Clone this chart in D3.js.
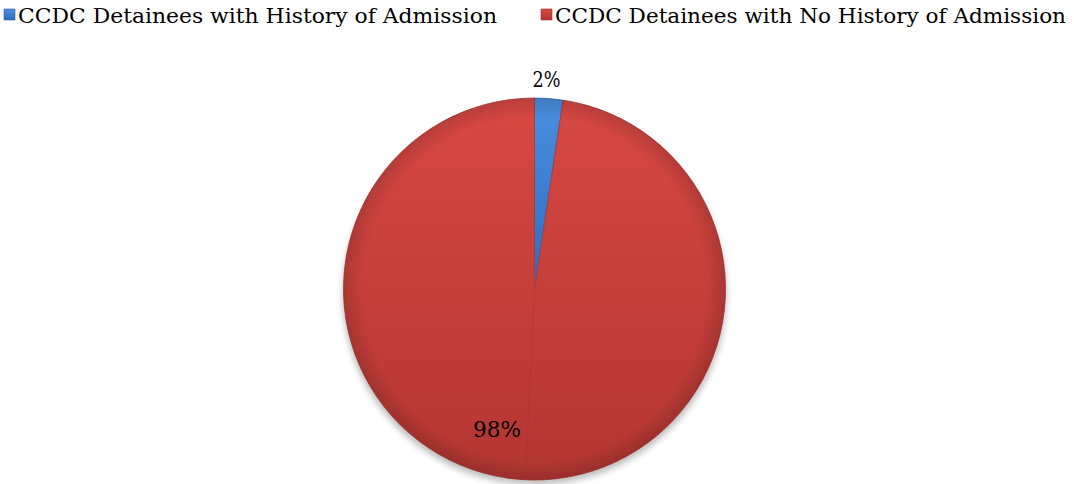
<!DOCTYPE html>
<html><head><meta charset="utf-8">
<script src="https://cdn.jsdelivr.net/npm/d3@7"></script>
<style>html,body{margin:0;padding:0;background:#fff;} svg{display:block;} text{font-family:"DejaVu Serif",serif;}</style>
</head><body>
<svg id="chart" width="1074" height="484"></svg>
<script>
const categories = ["CCDC Detainees with History of Admission", "CCDC Detainees with No History of Admission"];
const values = [2.4, 97.6];
const labels = ["2%", "98%"];
const colors = ["#3a7fd5", "#cf4440"];

const svg = d3.select("#chart");
const cx = 534.5, cy = 289, R = 191;

const defs = svg.append("defs");
const gRed = defs.append("linearGradient").attr("id","gRed").attr("x1",0).attr("y1",0).attr("x2",0).attr("y2",1);
gRed.append("stop").attr("offset","0%").attr("stop-color","#d84843");
gRed.append("stop").attr("offset","100%").attr("stop-color","#b23632");
const gBlue = defs.append("linearGradient").attr("id","gBlue").attr("x1",0).attr("y1",0).attr("x2",0).attr("y2",1);
gBlue.append("stop").attr("offset","0%").attr("stop-color","#4a8fe0");
gBlue.append("stop").attr("offset","100%").attr("stop-color","#2f6cc0");
const rim = defs.append("radialGradient").attr("id","rim").attr("cx","50%").attr("cy","50%").attr("r","50%");
rim.append("stop").attr("offset","90%").attr("stop-color","#000").attr("stop-opacity",0);
rim.append("stop").attr("offset","100%").attr("stop-color","#000").attr("stop-opacity",0.14);
const blur = defs.append("filter").attr("id","shadow").attr("x","-20%").attr("y","-20%").attr("width","140%").attr("height","140%");
blur.append("feGaussianBlur").attr("stdDeviation",3);

// Legend
const legend = svg.append("g");
const legendX = [4, 541];
const legendW = [479, 511];
const legGrads = ["gBlue","gRed"];
categories.forEach((c,i) => {
  const g = legend.append("g").attr("transform", `translate(${legendX[i]},0)`);
  g.append("rect").attr("x",0).attr("y",9).attr("width",11).attr("height",11)
    .attr("fill", `url(#${legGrads[i]})`).attr("stroke", d3.color(colors[i]).darker(0.8)).attr("stroke-width",0.6);
  g.append("text").attr("x",14).attr("y",23).text(c)
    .attr("font-size",21).attr("fill","#000")
    .attr("textLength", legendW[i]).attr("lengthAdjust","spacingAndGlyphs");
});

// Pie
const pie = d3.pie().sort(null).value(d => d)(values);
const arc = d3.arc().innerRadius(0).outerRadius(R);
const g = svg.append("g").attr("transform", `translate(${cx},${cy})`);

g.append("ellipse").attr("cx",0).attr("cy",6).attr("rx",R+1).attr("ry",R-1)
  .attr("fill","#000").attr("opacity",0.25).attr("filter","url(#shadow)");

const fills = ["url(#gBlue)","url(#gRed)"];
g.selectAll("path.slice").data(pie).join("path").attr("class","slice")
  .attr("d", arc).attr("fill", (d,i) => fills[i])
  .attr("stroke", (d,i) => d3.color(colors[i]).darker(0.6)).attr("stroke-width",0.8);

g.append("circle").attr("r",R).attr("fill","url(#rim)").attr("pointer-events","none");

// subtle bevel seam
g.append("path").attr("d", d3.line().curve(d3.curveBasis)([[0,0],[-4,80],[-9,188]]))
  .attr("fill","none").attr("stroke","#8e2a27").attr("stroke-opacity",0.25).attr("stroke-width",1);

// Labels
const labelPos = [[546.5, 87], [497, 437]];
const labelW = [28, 48];
svg.selectAll("text.lbl").data(labels).join("text").attr("class","lbl")
  .attr("x",(d,i)=>labelPos[i][0] - labelW[i]/2).attr("y",(d,i)=>labelPos[i][1])
  .attr("font-size",23).attr("fill","#000")
  .attr("textLength",(d,i)=>labelW[i]).attr("lengthAdjust","spacingAndGlyphs")
  .text(d=>d);
</script>
</body></html>
